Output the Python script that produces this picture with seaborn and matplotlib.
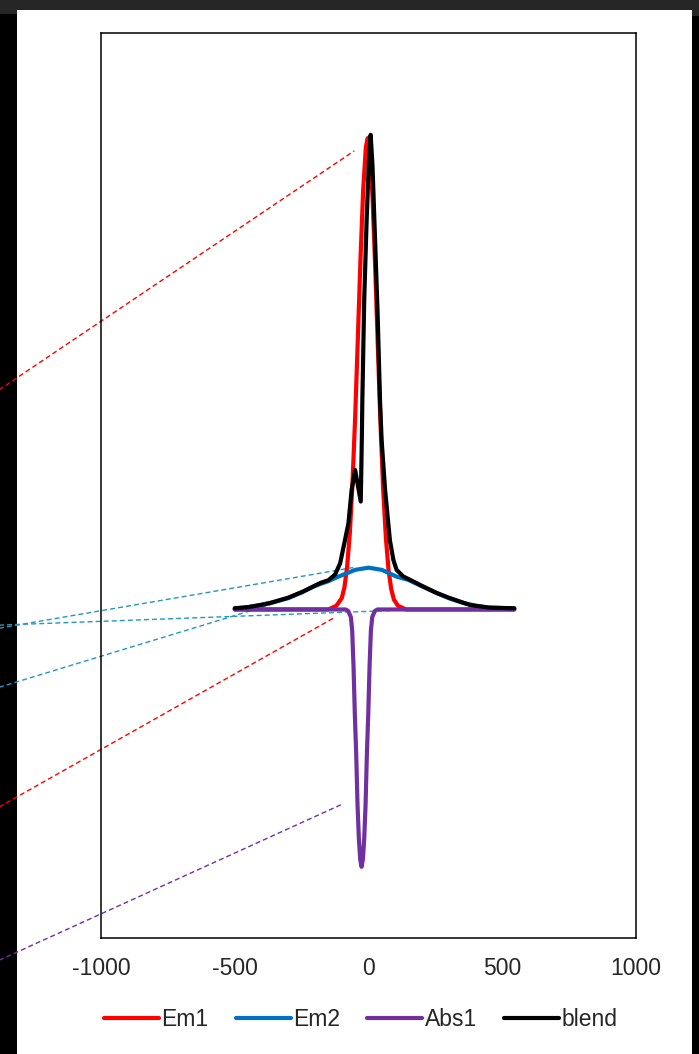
import matplotlib
matplotlib.use("Agg")
import matplotlib.pyplot as plt
from matplotlib.patches import Rectangle
import seaborn as sns

# spectral components (x in wavenumber-like units, y normalised)
em1_x = [-500, -150, -120, -100, -90, -80, -70, -60, -50, -40, -30, -20, -10, -3,
         5, 15, 25, 35, 45, 55, 65, 75, 85, 95, 110, 140, 545]
em1_y = [0.0, 0.0, 0.008, 0.024, 0.047, 0.090, 0.160, 0.266, 0.406, 0.572, 0.743, 0.889, 0.980, 1.0,
         0.974, 0.876, 0.726, 0.555, 0.391, 0.253, 0.152, 0.083, 0.043, 0.021, 0.008, 0.0, 0.0]

em2_x = [-500, -450, -400, -350, -300, -250, -200, -150, -113, -50, 0,
         50, 105, 150, 200, 250, 300, 350, 400, 450, 500, 545]
em2_y = [0.002, 0.0048, 0.0095, 0.016, 0.024, 0.036, 0.050, 0.060, 0.0696, 0.084, 0.0887,
         0.084, 0.0696, 0.0625, 0.049, 0.036, 0.024, 0.0145, 0.008, 0.0038, 0.003, 0.0024]

abs1_x = [-500, -86, -76, -66, -61, -56, -51, -46, -41, -36, -31, -26,
          -21, -16, -11, -6, -1, 4, 9, 14, 24, 34, 545]
abs1_y = [0.0, 0.0, -0.003, -0.016, -0.044, -0.120, -0.224, -0.306, -0.415, -0.486, -0.530, -0.546,
          -0.530, -0.486, -0.415, -0.306, -0.224, -0.120, -0.044, -0.016, -0.003, 0.0, 0.0]

blend_x = [-500, -450, -400, -368, -300, -245, -181, -150, -125, -106, -88, -75, -63, -50, -29,
           -25, -23, -16, -7, 1, 8, 15, 22, 34, 43, 49, 62, 68, 80, 93, 105, 130, 155, 200,
           255, 300, 379, 450, 545]
blend_y = [0.0025, 0.005, 0.010, 0.0138, 0.025, 0.038, 0.056, 0.062, 0.074, 0.098, 0.147, 0.183, 0.254, 0.296, 0.229,
           0.360, 0.444, 0.657, 0.826, 0.945, 1.007, 0.94, 0.826, 0.629, 0.444, 0.360, 0.254, 0.218, 0.147, 0.105, 0.084,
           0.070, 0.063, 0.050, 0.035, 0.025, 0.0095, 0.004, 0.0025]

series_names = ["Em1", "Em2", "Abs1", "blend"]
series_colors = ["#FF0000", "#0070C0", "#7030A0", "#000000"]

# leader lines of the (cropped) data labels: (start, end) in data coords
red_leaders = [((-1415, 0.453), (-53, 0.973)), ((-1415, -0.430), (-133, -0.019))]
blue_leaders = [((-1415, -0.043), (-57, 0.089)), ((-1415, -0.034), (305, 0.0025)),
                ((-1415, -0.171), (-350, 0.013))]
purple_leaders = [((-1415, -0.753), (-98, -0.413))]

x_ticks = [-1000, -500, 0, 500, 1000]
x_tick_labels = ["-1000", "-500", "0", "500", "1000"]

sns.set_style("white")
plt.rcParams['font.family'] = ['Liberation Sans', 'DejaVu Sans']

fig = plt.figure(figsize=(6.99, 10.54), dpi=100)
ax = fig.add_axes([101 / 699, 116 / 1054, 535 / 699, 905 / 1054])

# screenshot frame around the chart
W, H = 699, 1054
for (x0, y0, w, h, c) in [(0, H - 10, W, 10, "#262626"), (0, 0, 17, H - 14, "#000000"),
                          (0, H - 14, 17, 14, "#262626"), (692, 0, 7, H - 16, "#000000"),
                          (692, H - 16, 7, 16, "#262626")]:
    fig.add_artist(Rectangle((x0 / W, y0 / H), w / W, h / H, transform=fig.transFigure,
                             color=c, zorder=-1, lw=0))

for leaders, col in [(red_leaders, "#FF0000"), (blue_leaders, "#2596BE"), (purple_leaders, "#7030A0")]:
    for (p0, p1) in leaders:
        ax.plot([p0[0], p1[0]], [p0[1], p1[1]], color=col, lw=1.0, ls=(0, (3.6, 2.2)),
                clip_on=False, zorder=1.5)

data = [(em1_x, em1_y), (em2_x, em2_y), (abs1_x, abs1_y), (blend_x, blend_y)]
for (xs, ys), name, col in zip(data, series_names, series_colors):
    sns.lineplot(x=xs, y=ys, ax=ax, color=col, lw=3.0, label=name, sort=False,
                 estimator=None, zorder=2)

ax.set_xlim(-1000, 1000)
ax.set_ylim(-0.697, 1.223)
ax.set_xticks(x_ticks)
ax.set_xticklabels(x_tick_labels, fontsize=16.5)
ax.set_yticks([])
ax.tick_params(axis="x", length=0, pad=13.5)
for s in ax.spines.values():
    s.set_color("black")
    s.set_linewidth(1.1)

handles, labels = ax.get_legend_handles_labels()
ax.get_legend().remove()
fig.legend(handles, labels, loc="center", bbox_to_anchor=(0.516, 0.0325), ncol=4,
           frameon=False, fontsize=16.5, handlelength=2.4, handletextpad=0.1,
           columnspacing=1.2)

fig.savefig("out.png", dpi=100)
